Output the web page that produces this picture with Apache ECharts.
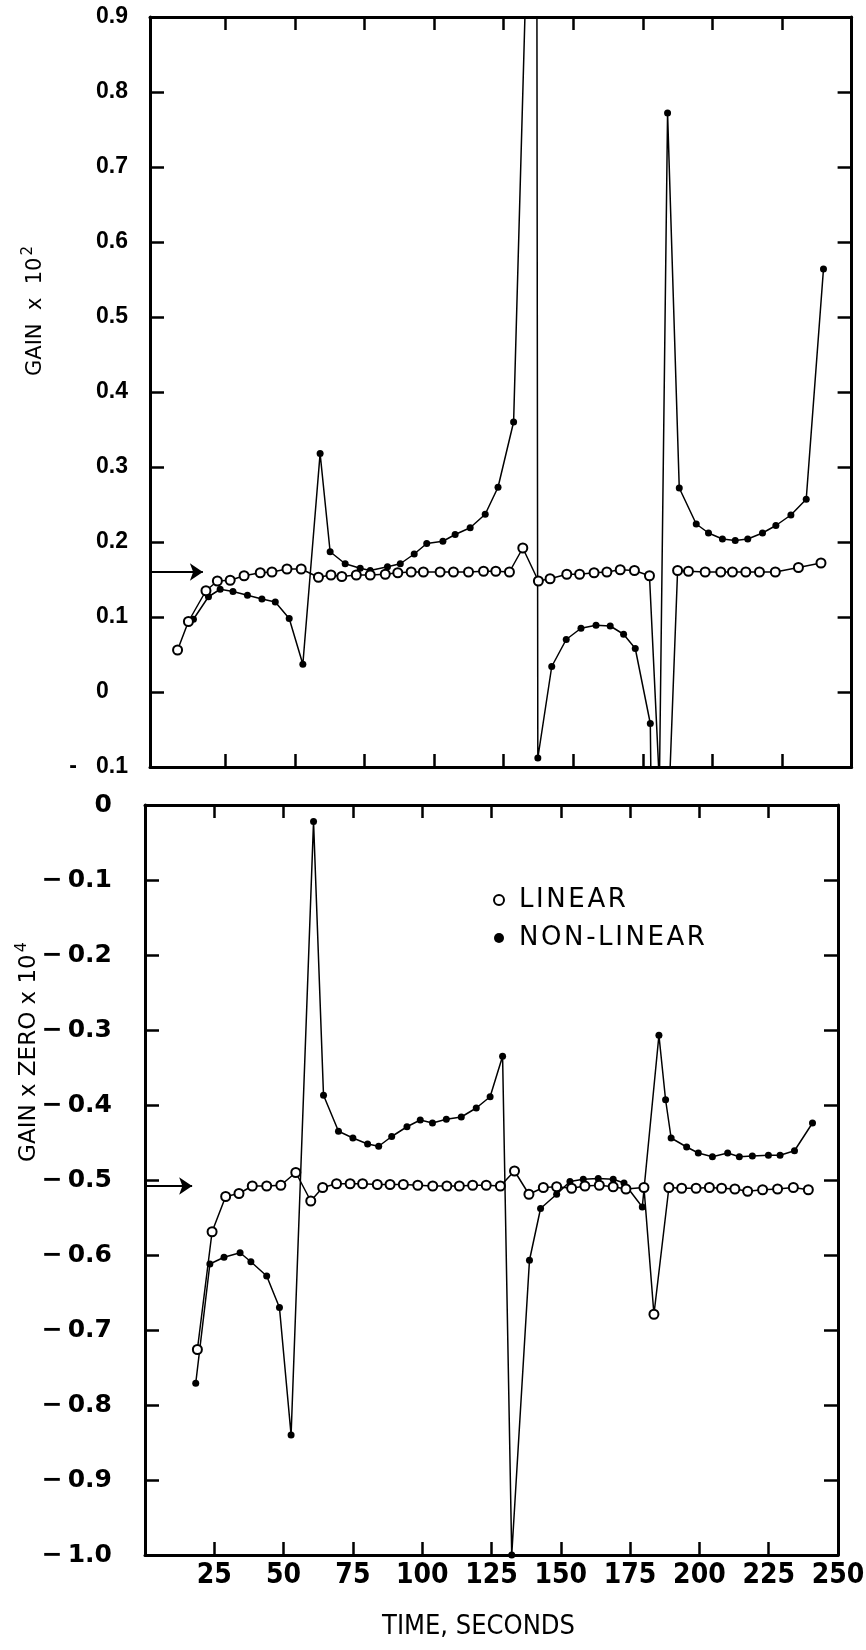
<!DOCTYPE html>
<html>
<head>
<meta charset="utf-8">
<script src="https://cdn.jsdelivr.net/npm/echarts@6/dist/echarts.min.js"></script>
<style>
html,body{margin:0;padding:0;background:#fff;}
#chart{width:866px;height:1650px;}
</style>
</head>
<body>
<div id="chart"></div>
<script>
// ---- data (time in seconds, value) ----
const xTickLabels = [25, 50, 75, 100, 125, 150, 175, 200, 225, 250];
const topLinear = [
  [7.9,0.056],[11.8,0.094],[18.1,0.135],[22.2,0.148],[26.8,0.149],[31.8,0.155],[37.6,0.159],[41.8,0.160],
  [47.2,0.164],[52.3,0.164],[58.5,0.153],[63.0,0.156],[66.9,0.154],[72.1,0.156],[77.1,0.156],[82.5,0.157],
  [87.0,0.159],[91.8,0.160],[96.2,0.160],[102.2,0.160],[107.0,0.160],[112.4,0.160],[117.8,0.161],[122.2,0.161],
  [127.1,0.160],[131.9,0.192],[137.5,0.148],[141.7,0.151],[147.7,0.157],[152.3,0.157],[157.5,0.159],[162.1,0.160],
  [166.9,0.163],[172.0,0.162],[177.4,0.155],[183.0,-0.28],[187.5,0.162],[191.4,0.161],[197.4,0.160],[203.0,0.160],
  [207.2,0.160],[212.0,0.160],[216.9,0.160],[222.6,0.160],[230.9,0.166],[239.0,0.172]
];
const topNonLinear = [
  [13.6,0.097],[19.0,0.127],[23.2,0.137],[27.8,0.134],[33.0,0.129],[38.2,0.124],[43.0,0.120],[48.0,0.098],
  [52.9,0.037],[59.1,0.318],[62.7,0.187],[68.1,0.171],[73.5,0.165],[77.1,0.162],[83.3,0.167],[87.9,0.171],
  [92.9,0.184],[97.4,0.198],[103.2,0.201],[107.6,0.210],[113.0,0.219],[118.4,0.237],[123.0,0.273],[128.6,0.360],
  [136.8,1.45],[137.3,-0.088],[142.3,0.034],[147.5,0.070],[152.8,0.085],[158.2,0.089],[163.3,0.088],[168.1,0.077],
  [172.3,0.058],[177.7,-0.042],[179.4,-0.6],[183.9,0.772],[188.1,0.272],[194.2,0.224],[198.6,0.212],[203.6,0.204],
  [208.2,0.202],[212.7,0.204],[218.0,0.212],[222.8,0.222],[228.2,0.236],[233.7,0.257],[239.9,0.564]
];
const bottomLinear = [
  [18.9,-0.726],[24.2,-0.569],[29.1,-0.522],[33.9,-0.518],[38.7,-0.508],[43.9,-0.508],[49.0,-0.507],[54.4,-0.490],
  [59.8,-0.528],[64.1,-0.510],[69.1,-0.505],[74.0,-0.505],[78.5,-0.505],[83.8,-0.506],[88.4,-0.506],[93.2,-0.506],
  [98.4,-0.507],[103.8,-0.508],[108.9,-0.508],[113.4,-0.508],[118.2,-0.507],[123.1,-0.507],[128.2,-0.508],[133.3,-0.488],
  [138.5,-0.519],[143.7,-0.510],[148.5,-0.509],[153.9,-0.511],[158.7,-0.508],[163.9,-0.507],[168.9,-0.509],[173.5,-0.512],
  [180.0,-0.510],[183.6,-0.679],[189.0,-0.510],[193.6,-0.511],[198.8,-0.511],[203.6,-0.510],[208.0,-0.511],[212.8,-0.512],
  [217.4,-0.515],[222.8,-0.513],[228.2,-0.512],[233.9,-0.510],[239.3,-0.513]
];
const bottomNonLinear = [
  [18.3,-0.771],[23.4,-0.612],[28.5,-0.603],[34.3,-0.597],[38.2,-0.609],[43.9,-0.628],[48.5,-0.670],[52.7,-0.840],
  [60.8,-0.022],[64.4,-0.387],[69.8,-0.435],[75.0,-0.444],[80.3,-0.452],[84.3,-0.455],[89.0,-0.442],[94.5,-0.429],
  [99.3,-0.420],[103.7,-0.424],[108.7,-0.419],[114.1,-0.416],[119.5,-0.404],[124.5,-0.389],[129.0,-0.335],[132.3,-1.0],
  [138.7,-0.607],[142.7,-0.538],[148.5,-0.519],[153.3,-0.502],[158.1,-0.499],[163.5,-0.498],[168.9,-0.499],[172.8,-0.504],
  [179.4,-0.536],[185.4,-0.307],[187.8,-0.393],[189.8,-0.444],[195.4,-0.456],[199.6,-0.464],[204.7,-0.469],[210.2,-0.464],
  [214.4,-0.469],[219.1,-0.468],[224.9,-0.467],[229.1,-0.467],[234.3,-0.461],[240.8,-0.424]
];
const topArrowLevel = 0.16;
const bottomArrowLevel = -0.508;
const seriesNames = ['LINEAR', 'NON-LINEAR'];

// ---- chart ----
const chart = echarts.init(document.getElementById('chart'), null, {renderer: 'canvas'});
const BLACK = '#000';
const boldFont = '"Liberation Sans", Arial, sans-serif';
const dejaFont = '"DejaVu Sans", sans-serif';
const narrowFont = '"Liberation Sans Narrow", "DejaVu Sans Condensed", sans-serif';
const innerTicks = [25, 50, 75, 100, 125, 150, 175, 200, 225];

function xAx(grid, pos, showLabel, min) {
  return {
    type: 'value', gridIndex: grid, position: pos, min: min, max: 250,
    interval: 25,
    axisLine: {show: true, onZero: false, lineStyle: {color: BLACK, width: 3}},
    axisTick: {show: true, inside: true, length: 13, lineStyle: {color: BLACK, width: 2.5}, customValues: innerTicks},
    axisLabel: showLabel ? {
      show: true, color: BLACK, fontFamily: narrowFont, fontWeight: 'bold', fontSize: 28, margin: 7,
      customValues: xTickLabels, formatter: v => String(v)
    } : {show: false},
    splitLine: {show: false}
  };
}
function yAx(grid, pos, min, max, label) {
  return {
    type: 'value', gridIndex: grid, position: pos, min: min, max: max, interval: 0.1,
    axisLine: {show: true, onZero: false, lineStyle: {color: BLACK, width: 3}},
    axisTick: {show: true, inside: true, length: 14, lineStyle: {color: BLACK, width: 2.5}},
    axisLabel: label ? Object.assign({show: true, color: BLACK, fontWeight: 'bold'}, label) : {show: false},
    splitLine: {show: false}
  };
}
const topFmt = v => {
  const r = Math.round(v * 10) / 10;
  if (r === 0) return '0   ';
  if (r < 0) return '-   ' + Math.abs(r).toFixed(1);
  return r.toFixed(1);
};
const botFmt = v => {
  const r = Math.round(v * 10) / 10;
  if (r === 0) return '0';
  return '\u2212\u2009' + Math.abs(r).toFixed(1);
};

const yTop = yAx(0, 'left', -0.1, 0.9, {fontFamily: boldFont, fontSize: 23, margin: 22, formatter: topFmt});
yTop.name = '{a|GAIN  x  10}{s|2}';
yTop.nameLocation = 'middle';
yTop.nameRotate = 90;
yTop.nameGap = 100;
yTop.nameMoveOverlap = false;
yTop.nameTextStyle = {padding: [0, 0, 0, 162], rich: {
  a: {fontFamily: dejaFont, fontSize: 21, color: BLACK},
  s: {fontFamily: dejaFont, fontSize: 15, color: BLACK, verticalAlign: 'bottom', padding: [0, 0, 14, 2]}
}};
const yBot = yAx(1, 'left', -1.0, 0, {fontFamily: dejaFont, fontSize: 25, margin: 33, formatter: botFmt});
yBot.name = '{a|GAIN x ZERO x 10}{s|4}';
yBot.nameLocation = 'middle';
yBot.nameRotate = 90;
yBot.nameGap = 100;
yBot.nameMoveOverlap = false;
yBot.nameTextStyle = {padding: [0, 0, 0, 256], rich: {
  a: {fontFamily: dejaFont, fontSize: 23, color: BLACK},
  s: {fontFamily: dejaFont, fontSize: 16, color: BLACK, verticalAlign: 'bottom', padding: [0, 0, 15, 2]}
}};
const xBot = xAx(1, 'bottom', true, 0);
xBot.name = 'TIME, SECONDS';
xBot.nameLocation = 'middle';
xBot.nameGap = 58;
xBot.nameMoveOverlap = false;
xBot.nameTextStyle = {fontFamily: narrowFont, fontSize: 27, color: BLACK, padding: [0, 26, 0, 0]};

function lineSeries(name, data, xi, yi, linear, arrowLevel, arrowStart) {
  const s = {
    name: name, type: 'line', xAxisIndex: xi, yAxisIndex: yi, data: data,
    symbol: 'circle', symbolSize: linear ? 9 : 7, showSymbol: true,
    lineStyle: {color: BLACK, width: 1.5},
    itemStyle: linear ? {color: '#fff', borderColor: BLACK, borderWidth: 2} : {color: BLACK, borderWidth: 0},
    z: linear ? 4 : 3, clip: true, animation: false, silent: true
  };
  if (arrowLevel !== undefined) {
    s.markLine = {
      silent: true, animation: false, symbol: ['none', 'arrow'], symbolSize: 13,
      label: {show: false}, lineStyle: {color: BLACK, width: 2, type: 'solid'},
      data: [[{coord: [arrowStart, arrowLevel]}, {coord: [17, arrowLevel]}]]
    };
  }
  return s;
}

const spaced = s => s.split('').join('\u200A');

const option = {
  backgroundColor: '#fff',
  animation: false,
  grid: [
    {left: 150, top: 17, width: 701.6, height: 750, outerBoundsMode: 'none', containLabel: false},
    {left: 145, top: 805, width: 693, height: 750, outerBoundsMode: 'none', containLabel: false}
  ],
  xAxis: [xAx(0, 'bottom', false, -2), xAx(0, 'top', false, -2), xBot, xAx(1, 'top', false, 0)],
  yAxis: [yTop, yAx(0, 'right', -0.1, 0.9, null), yBot, yAx(1, 'right', -1.0, 0, null)],
  legend: {
    orient: 'vertical', left: 488, top: 881, itemGap: 10, itemWidth: 10, itemHeight: 10,
    selectedMode: false,
    formatter: spaced,
    textStyle: {fontFamily: dejaFont, fontSize: 26, color: BLACK, lineHeight: 28, padding: [0, 0, 0, 10]},
    data: [
      {name: seriesNames[0], icon: 'circle', itemStyle: {color: '#fff', borderColor: BLACK, borderWidth: 2}},
      {name: seriesNames[1], icon: 'circle', itemStyle: {color: BLACK, borderWidth: 0}}
    ]
  },
  series: [
    lineSeries(seriesNames[1], topNonLinear, 0, 0, false),
    lineSeries(seriesNames[0], topLinear, 0, 0, true, topArrowLevel, -2),
    lineSeries(seriesNames[1], bottomNonLinear, 2, 2, false),
    lineSeries(seriesNames[0], bottomLinear, 2, 2, true, bottomArrowLevel, 0)
  ]
};
chart.setOption(option);
</script>
</body>
</html>
